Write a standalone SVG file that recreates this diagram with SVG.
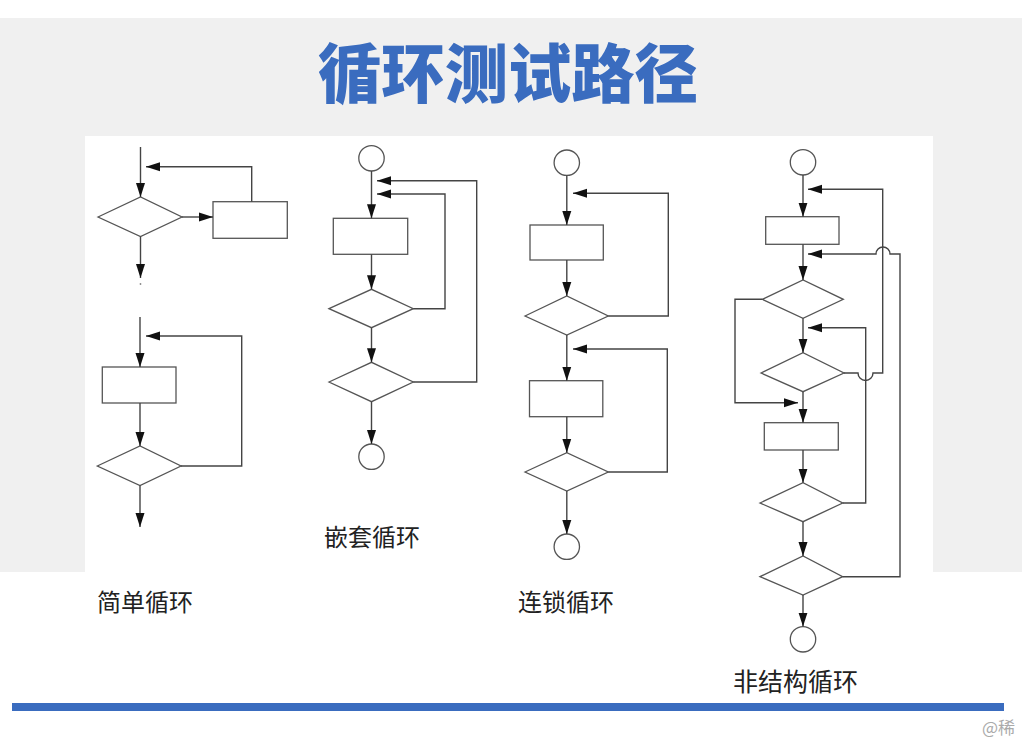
<svg xmlns="http://www.w3.org/2000/svg" width="1022" height="738" viewBox="0 0 1022 738">
<style>
.ln{fill:none;stroke:#444;stroke-width:1.4}
.sh{fill:#fff;stroke:#555;stroke-width:1.3}
.lbl{font-family:"Noto Sans CJK SC","Noto Sans",sans-serif;font-size:24px;fill:#222}
.title{font-family:"Noto Sans CJK SC","Noto Sans",sans-serif;font-size:64px;font-weight:900;fill:#3a6cbf}
</style>
<defs>
<marker id="ah" markerUnits="userSpaceOnUse" markerWidth="15" markerHeight="10" refX="14" refY="5" orient="auto">
<path d="M0,0.5 L14,5 L0,9.5 z" fill="#111"/>
</marker>
</defs>
<rect x="0" y="0" width="1022" height="738" fill="#fff"/>
<rect x="0" y="18" width="1022" height="554" fill="#f0f0f0"/>
<rect x="85" y="136" width="848" height="437" fill="#fff"/>
<text class="title" x="508" y="97" text-anchor="middle" textLength="380" lengthAdjust="spacingAndGlyphs">循环测试路径</text>
<rect x="12" y="703" width="992" height="8" fill="#3a6cbf"/>
<text x="982" y="734" font-family="'Noto Sans CJK SC','Noto Sans',sans-serif" font-size="17" fill="#aaa">@稀</text>

<g id="simple1">
<polygon class="sh" points="98,217 140.5,197 182,217 140.5,236.5"/>
<rect class="sh" x="213" y="201.7" width="74.3" height="36.6"/>
<circle cx="140.5" cy="284" r="0.9" fill="#888"/>
</g>
<g id="simple2">
<rect class="sh" x="102.3" y="367" width="73.7" height="36"/>
<polygon class="sh" points="97.3,466 140,446 181,466 140,485.5"/>
<text class="lbl" x="97" y="611">简单循环</text>
</g>
<g id="nested">
<circle class="sh" cx="371.5" cy="158.3" r="12.7"/>
<rect class="sh" x="333.3" y="218.3" width="74.4" height="36"/>
<polygon class="sh" points="329,308.7 371.5,289.3 413.3,308.7 371.5,327.7"/>
<polygon class="sh" points="329,382 371.5,362.3 413.3,382 371.5,401.7"/>
<circle class="sh" cx="371.5" cy="456.7" r="12.7"/>
<text class="lbl" x="324" y="546">嵌套循环</text>
</g>
<g id="interlocked">
<circle class="sh" cx="566.8" cy="162.7" r="12.7"/>
<rect class="sh" x="530" y="225" width="73.3" height="35"/>
<polygon class="sh" points="525,316 566.8,296 608.3,316 566.8,335"/>
<rect class="sh" x="529.5" y="380.7" width="73.3" height="36"/>
<polygon class="sh" points="525,472 566.8,452.7 608.3,472 566.8,491"/>
<circle class="sh" cx="566.8" cy="546.7" r="12.7"/>
<text class="lbl" x="518" y="611">连锁循环</text>
</g>
<g id="unstructured">
<circle class="sh" cx="803" cy="162.3" r="12.7"/>
<rect class="sh" x="765.7" y="216.7" width="73.3" height="27.6"/>
<polygon class="sh" points="762.3,299.3 803,280 843.3,299.3 803,318.3"/>
<polygon class="sh" points="761,373 803,352.7 844,373 803,391.7"/>
<rect class="sh" x="764.3" y="422.7" width="74" height="27.3"/>
<polygon class="sh" points="760,503 803,482.7 842.7,503 803,521.7"/>
<polygon class="sh" points="760,576.7 803,556 842.7,576.7 803,595"/>
<circle class="sh" cx="803" cy="639.3" r="12.7"/>
<text x="733" y="691" class="lbl" style="font-size:25px">非结构循环</text>
</g>

<g id="connectors">
<path class="ln" marker-end="url(#ah)" d="M140.5,147 V197"/>
<path class="ln" marker-end="url(#ah)" d="M182,217 H213"/>
<path class="ln" marker-end="url(#ah)" d="M251.7,201.7 V166.7 H146"/>
<path class="ln" marker-end="url(#ah)" d="M140.5,236.5 V278"/>

<path class="ln" marker-end="url(#ah)" d="M140,317 V367"/>
<path class="ln" marker-end="url(#ah)" d="M140,403 V446"/>
<path class="ln" marker-end="url(#ah)" d="M181,466 H241.7 V336 H146"/>
<path class="ln" marker-end="url(#ah)" d="M140,485.5 V527"/>

<path class="ln" marker-end="url(#ah)" d="M371.5,171 V218.3"/>
<path class="ln" marker-end="url(#ah)" d="M371.5,254.3 V289.3"/>
<path class="ln" marker-end="url(#ah)" d="M371.5,327.7 V362.3"/>
<path class="ln" marker-end="url(#ah)" d="M371.5,401.7 V444"/>
<path class="ln" marker-end="url(#ah)" d="M413.3,308.7 H445 V194 H377"/>
<path class="ln" marker-end="url(#ah)" d="M413.3,382 H476.7 V180.7 H377"/>

<path class="ln" marker-end="url(#ah)" d="M566.8,175.4 V225"/>
<path class="ln" marker-end="url(#ah)" d="M566.8,260 V296"/>
<path class="ln" marker-end="url(#ah)" d="M566.8,335 V380.7"/>
<path class="ln" marker-end="url(#ah)" d="M566.8,416.7 V452.7"/>
<path class="ln" marker-end="url(#ah)" d="M566.8,491 V534"/>
<path class="ln" marker-end="url(#ah)" d="M608.3,316 H668.3 V193.3 H573"/>
<path class="ln" marker-end="url(#ah)" d="M608.3,472 H667.3 V349 H573"/>

<path class="ln" marker-end="url(#ah)" d="M803,175 V216.7"/>
<path class="ln" marker-end="url(#ah)" d="M803,244.3 V280"/>
<path class="ln" marker-end="url(#ah)" d="M803,318.3 V352.7"/>
<path class="ln" marker-end="url(#ah)" d="M803,391.7 V422.7"/>
<path class="ln" marker-end="url(#ah)" d="M803,450 V482.7"/>
<path class="ln" marker-end="url(#ah)" d="M803,521.7 V556"/>
<path class="ln" marker-end="url(#ah)" d="M803,595 V626.6"/>
<path class="ln" marker-end="url(#ah)" d="M844,373 H858 A7.5,7.5 0 0 0 873,373 H882.7 V189.3 H808"/>
<path class="ln" marker-end="url(#ah)" d="M842.7,576.7 H900 V254 H890 A7,7 0 0 0 876,254 H808"/>
<path class="ln" marker-end="url(#ah)" d="M842.7,503 H865.7 V327.7 H808"/>
<path class="ln" marker-end="url(#ah)" d="M762.3,299.3 H735 V402.7 H798"/>
</g>
</svg>
